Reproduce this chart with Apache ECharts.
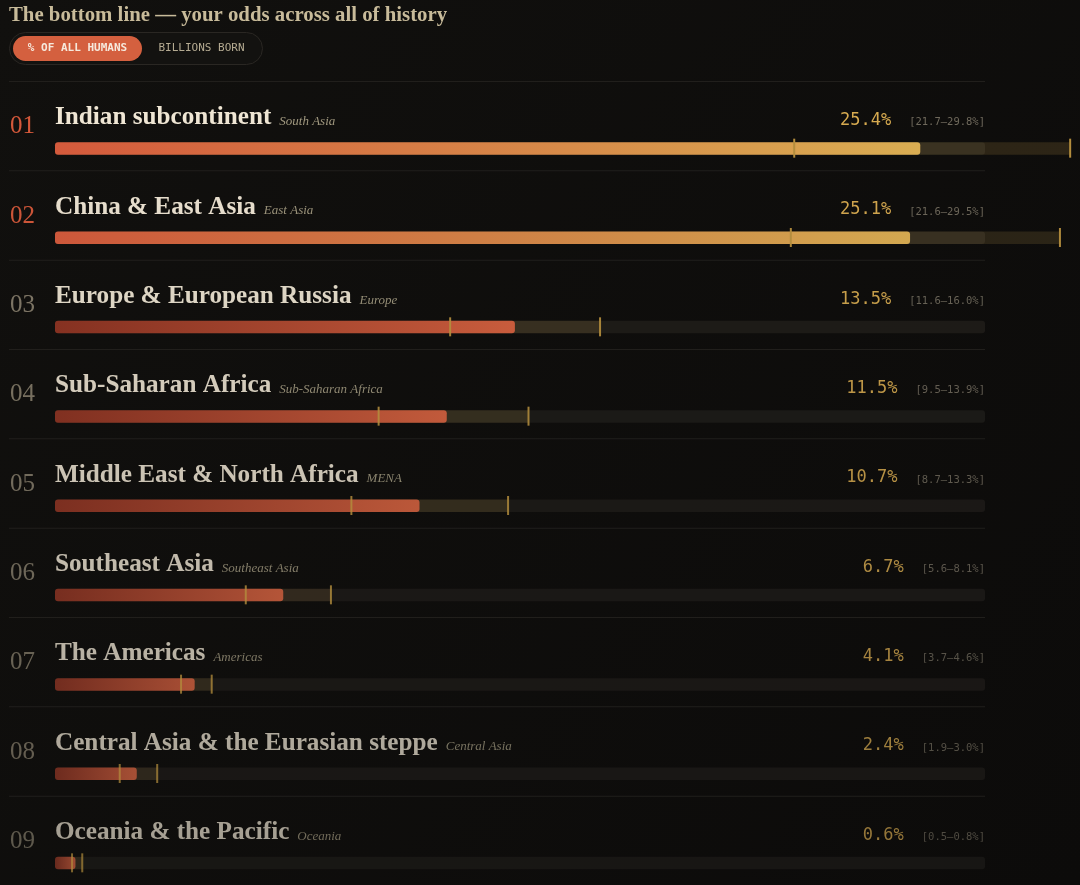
<!DOCTYPE html>
<html><head><meta charset="utf-8">
<script src="https://cdn.jsdelivr.net/npm/echarts@6/dist/echarts.min.js"></script>
<style>html,body{margin:0;padding:0;background:#100f0d;}#c{width:1080px;height:885px;}</style>
</head><body><div id="c"></div>
<script>
const regions = ['Indian subcontinent','China & East Asia','Europe & European Russia','Sub-Saharan Africa','Middle East & North Africa','Southeast Asia','The Americas','Central Asia & the Eurasian steppe','Oceania & the Pacific'];
const subregions = ['South Asia','East Asia','Europe','Sub-Saharan Africa','MENA','Southeast Asia','Americas','Central Asia','Oceania'];
const ranks = ['01','02','03','04','05','06','07','08','09'];
const shares = [25.4,25.1,13.5,11.5,10.7,6.7,4.1,2.4,0.6];
const lows = [21.7,21.6,11.6,9.5,8.7,5.6,3.7,1.9,0.5];
const highs = [29.8,29.5,16.0,13.9,13.3,8.1,4.6,3.0,0.8];
const scaleMax = 27.3;

const TITLE_FONT_SIZE = 25.2, TITLE_FAMILY = '"Liberation Serif", serif';
const SUB_FONT = 'italic 13px "Liberation Serif", serif';
const MONO = '"DejaVu Sans Mono", monospace';
const ctx = document.createElement('canvas').getContext('2d');
function tw(t, font){ ctx.font = font; return ctx.measureText(t).width; }

const data = regions.map((r,i)=>[i, shares[i], lows[i], highs[i]]);
const TRACK_RIGHT = 985;

function renderItem(params, api){
  const i = api.value(0);
  const v = api.value(1), lo = api.value(2), hi = api.value(3);
  const p0 = api.coord([0, i]);
  const cy = p0[1], x0 = p0[0];
  const bandH = api.size([0, 1])[1];
  const xEnd = api.coord([scaleMax, i])[0];
  const xv = api.coord([v, i])[0];
  const xlo = api.coord([lo, i])[0];
  const xhi = api.coord([hi, i])[0];
  const op = 1 - i * 0.04;
  const top = i < 2;
  const barY = cy + 16.5, barH = 12.5;
  const children = [];
  children.push({type:'rect', shape:{x:9, y:cy - bandH/2, width:TRACK_RIGHT-9, height:1}, style:{fill:'#211f1c'}});
  children.push({type:'rect', shape:{x:x0, y:barY, width:xEnd-x0, height:barH, r:3}, style:{fill:'#1e1c19', opacity:op}});
  children.push({type:'rect', shape:{x:xlo, y:barY, width:xhi-xlo, height:barH}, style:{fill:'rgba(200,160,80,0.17)', opacity:op}});
  const grad = top
    ? new echarts.graphic.LinearGradient(0,0,1,0,[{offset:0,color:'#d45a3c'},{offset:1,color:'#d9ad52'}])
    : new echarts.graphic.LinearGradient(0,0,1,0,[{offset:0,color:'#8e3322'},{offset:1,color:'#d5603f'}]);
  children.push({type:'rect', shape:{x:x0, y:barY, width:xv-x0, height:barH, r:3}, style:{fill:grad, opacity:op}});
  [xlo, xhi].forEach(x=>children.push({type:'rect', shape:{x:x-1, y:cy+13, width:2, height:19}, style:{fill:'#b38d3d', opacity:op}}));
  // rank
  children.push({type:'text', x:10, y:cy+1, style:{text:ranks[i], font:'25px ' + TITLE_FAMILY, fill: top ? '#d4583a' : '#857d6b', align:'left', verticalAlign:'middle', opacity:op}});
  // title
  const tfont = 'bold ' + TITLE_FONT_SIZE + 'px ' + TITLE_FAMILY;
  children.push({type:'text', x:x0, y:cy-8, style:{text:regions[i], font:tfont, fill:'#efe6d4', align:'left', verticalAlign:'middle', opacity:op}});
  const w = tw(regions[i], tfont);
  children.push({type:'text', x:x0 + w + 8, y:cy-4, style:{text:subregions[i], font:SUB_FONT, fill:'#a0987f', align:'left', verticalAlign:'middle', opacity:op}});
  // values
  const rtxt = '[' + lo.toFixed(1) + '\u2013' + hi.toFixed(1) + '%]';
  const rfont = '10.5px ' + MONO;
  const rw = tw(rtxt, rfont);
  children.push({type:'text', x:TRACK_RIGHT, y:cy-3, style:{text:rtxt, font:rfont, fill:'#6f695c', align:'right', verticalAlign:'middle', opacity:op}});
  children.push({type:'text', x:TRACK_RIGHT - rw - 18, y:cy-5, style:{text:v.toFixed(1) + '%', font:'17px ' + MONO, fill:'#d6aa50', align:'right', verticalAlign:'middle', opacity:op}});
  return {type:'group', children};
}

const chart = echarts.init(document.getElementById('c'), null, {renderer:'canvas'});
chart.setOption({
  backgroundColor: new echarts.graphic.LinearGradient(0,0,1,1,[{offset:0,color:'#11100e'},{offset:1,color:'#0c0b0a'}]),
  animation:false,
  grid:{left:55, right:1080-TRACK_RIGHT, top:81, height:9*89.75, containLabel:false},
  xAxis:{type:'value', min:0, max:scaleMax, show:false},
  yAxis:{type:'category', data:regions, inverse:true, show:false},
  graphic:[
    {type:'text', left:9, top:5, style:{text:'The bottom line \u2014 your odds across all of history', font:'bold 20.8px "Liberation Serif", serif', fill:'#c8bb9a'}},
    {type:'rect', shape:{x:9.5, y:32.5, width:253, height:32, r:16}, style:{fill:'#131210', stroke:'#2a2723', lineWidth:1}},
    {type:'rect', shape:{x:13, y:36, width:129, height:25, r:12.5}, style:{fill:'#d4603f'}},
    {type:'text', x:77.5, y:48.5, style:{text:'% OF ALL HUMANS', font:'bold 11px ' + MONO, fill:'#f6e9dc', align:'center', verticalAlign:'middle'}},
    {type:'text', x:201.5, y:48.5, style:{text:'BILLIONS BORN', font:'11px ' + MONO, fill:'#b5ab92', align:'center', verticalAlign:'middle'}}
  ],
  series:[{type:'custom', clip:false, renderItem, encode:{x:[1,2,3], y:0}, data}]
});
</script></body></html>
